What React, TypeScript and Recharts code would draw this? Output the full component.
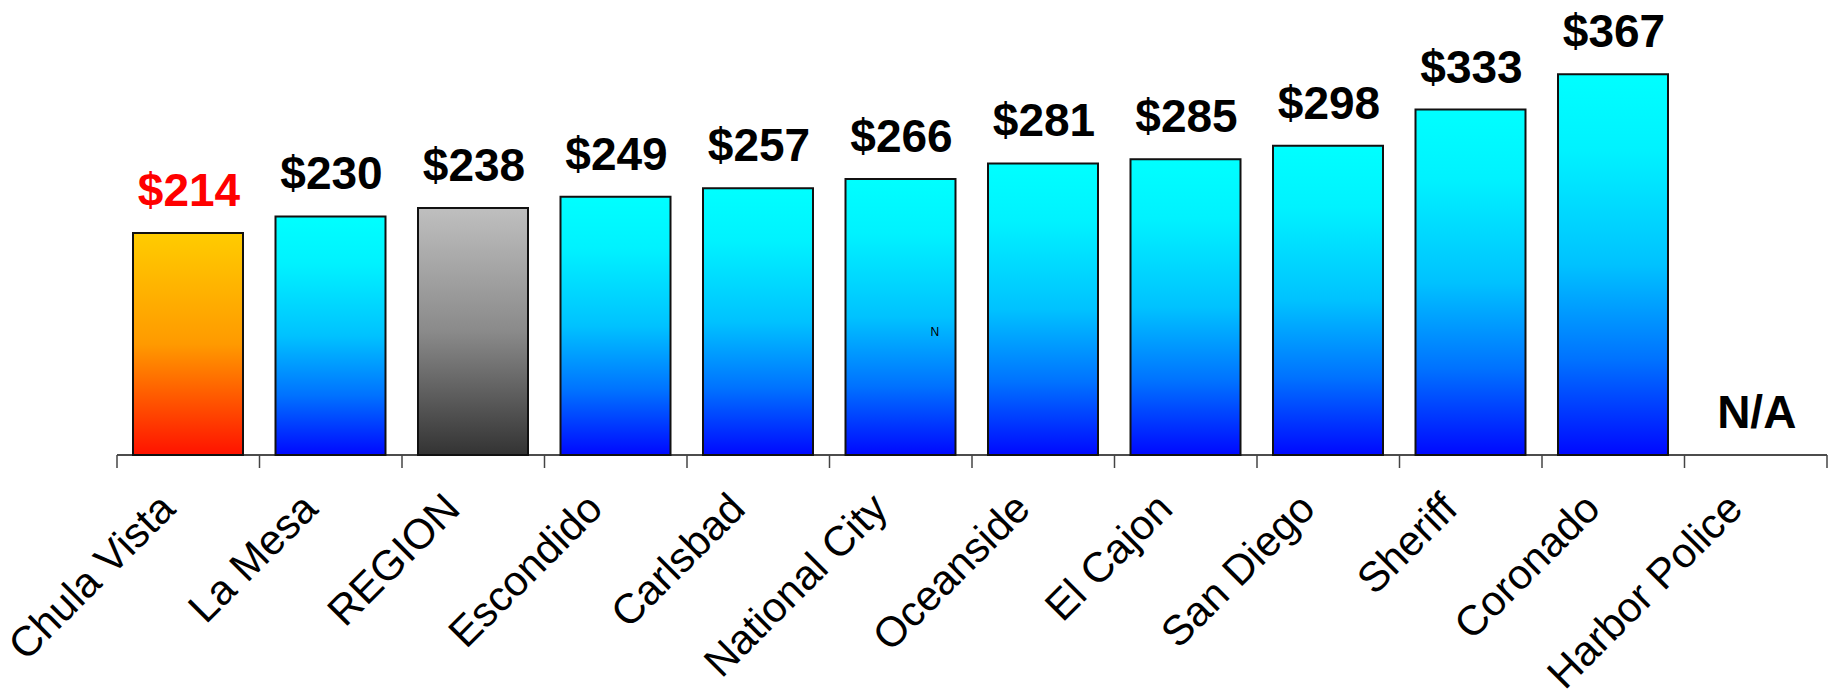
import React from 'react';
import { BarChart, Bar, XAxis, YAxis, Cell, LabelList, ReferenceDot } from 'recharts';

const categories = [
  'Chula Vista',
  'La Mesa',
  'REGION',
  'Escondido',
  'Carlsbad',
  'National City',
  'Oceanside',
  'El Cajon',
  'San Diego',
  'Sheriff',
  'Coronado',
  'Harbor Police',
];

const costs: (number | null)[] = [214, 230, 238, 249, 257, 266, 281, 285, 298, 333, 367, null];

const highlightCategory = 'Chula Vista';
const regionCategory = 'REGION';
const missingLabel = 'N/A';
const noteText = 'N';
const noteCategory = 'National City';
const noteValue = 115;

const yDomain: [number, number] = [0, 400];

const FONT = '"Liberation Sans", Arial, Helvetica, sans-serif';

const rows = categories.map((name, i) => ({
  name,
  pos: i + 0.5,
  cost: costs[i],
  plot: costs[i] ?? 0,
  label: costs[i] == null ? missingLabel : `$${costs[i]}`,
}));

const missingRows = rows.filter((r) => r.cost == null);

const boundaryTicks = Array.from({ length: categories.length + 1 }, (_, i) => i);

const fillFor = (name: string) =>
  name === highlightCategory ? 'url(#gradOrange)' : name === regionCategory ? 'url(#gradGray)' : 'url(#gradBlue)';

const CategoryTick = (props: any) => {
  const { x, y, payload } = props;
  const ax = x - 11;
  const ay = y + 55;
  return (
    <text
      x={ax}
      y={ay}
      textAnchor="end"
      transform={`rotate(-45 ${ax} ${ay})`}
      fontSize={42}
      fontFamily={FONT}
      fill="#000"
    >
      {payload.value}
    </text>
  );
};

const labelText = (cx: number, baseY: number, text: string, red: boolean) => (
  <text
    x={cx}
    y={baseY}
    textAnchor="middle"
    fontSize={46}
    fontWeight="bold"
    fontFamily={FONT}
    fill={red ? '#FF0000' : '#000'}
  >
    {text}
  </text>
);

const ValueLabel = (props: any) => {
  const { x, y, width, index } = props;
  const row = rows[index];
  if (!row || row.cost == null) return null;
  return labelText(x + width / 2 + 1, y - 27, row.label, row.name === highlightCategory);
};

const MissingShape = (props: any) => {
  const { cx, cy } = props;
  return labelText(cx + 1, cy - 27, missingLabel, false);
};

const NoteShape = (props: any) => {
  const { cx, cy } = props;
  return (
    <text x={cx + 34} y={cy} textAnchor="middle" fontSize={12} fontFamily={FONT} fill="#000">
      {noteText}
    </text>
  );
};

export default function App() {
  return (
    <div style={{ position: 'absolute', left: 0, top: 0, width: 1833, height: 697, background: '#fff' }}>
      <BarChart
        width={1833}
        height={697}
        data={rows}
        margin={{ top: 40, right: 6, bottom: 240, left: 117 }}
      >
        <defs>
          <linearGradient id="gradBlue" x1="0" y1="0" x2="0" y2="1">
            <stop offset="0%" stopColor="#00FFFF" />
            <stop offset="20%" stopColor="#00F2FF" />
            <stop offset="50%" stopColor="#00C2FF" />
            <stop offset="75%" stopColor="#0072FF" />
            <stop offset="100%" stopColor="#0008FF" />
          </linearGradient>
          <linearGradient id="gradOrange" x1="0" y1="0" x2="0" y2="1">
            <stop offset="0%" stopColor="#FFCC00" />
            <stop offset="50%" stopColor="#FF9A00" />
            <stop offset="100%" stopColor="#FF1200" />
          </linearGradient>
          <linearGradient id="gradGray" x1="0" y1="0" x2="0" y2="1">
            <stop offset="0%" stopColor="#BFBFBF" />
            <stop offset="50%" stopColor="#8A8A8A" />
            <stop offset="100%" stopColor="#333333" />
          </linearGradient>
        </defs>
        <XAxis
          xAxisId="bnd"
          dataKey="pos"
          type="number"
          domain={[0, categories.length]}
          allowDataOverflow
          ticks={boundaryTicks}
          tickFormatter={() => ''}
          tickSize={13}
          height={1}
          axisLine={{ stroke: '#111', strokeWidth: 1.5 }}
          tickLine={{ stroke: '#444', strokeWidth: 1.5 }}
          interval={0}
        />
        <XAxis
          xAxisId="cat"
          dataKey="name"
          type="category"
          height={1}
          axisLine={false}
          tickLine={false}
          tickSize={0}
          tickMargin={0}
          interval={0}
          tick={<CategoryTick />}
        />
        <YAxis hide domain={yDomain} />
        <Bar
          xAxisId="cat"
          dataKey="plot"
          barSize={110}
          stroke="#111"
          strokeWidth={2}
          isAnimationActive={false}
        >
          {rows.map((r) => (
            <Cell key={r.name} fill={fillFor(r.name)} />
          ))}
          <LabelList dataKey="plot" content={<ValueLabel />} />
        </Bar>
        {missingRows.map((r) => (
          <ReferenceDot key={r.name} xAxisId="cat" x={r.name} y={0} r={0} shape={<MissingShape />} ifOverflow="visible" />
        ))}
        <ReferenceDot xAxisId="cat" x={noteCategory} y={noteValue} r={0} shape={<NoteShape />} />
      </BarChart>
    </div>
  );
}
